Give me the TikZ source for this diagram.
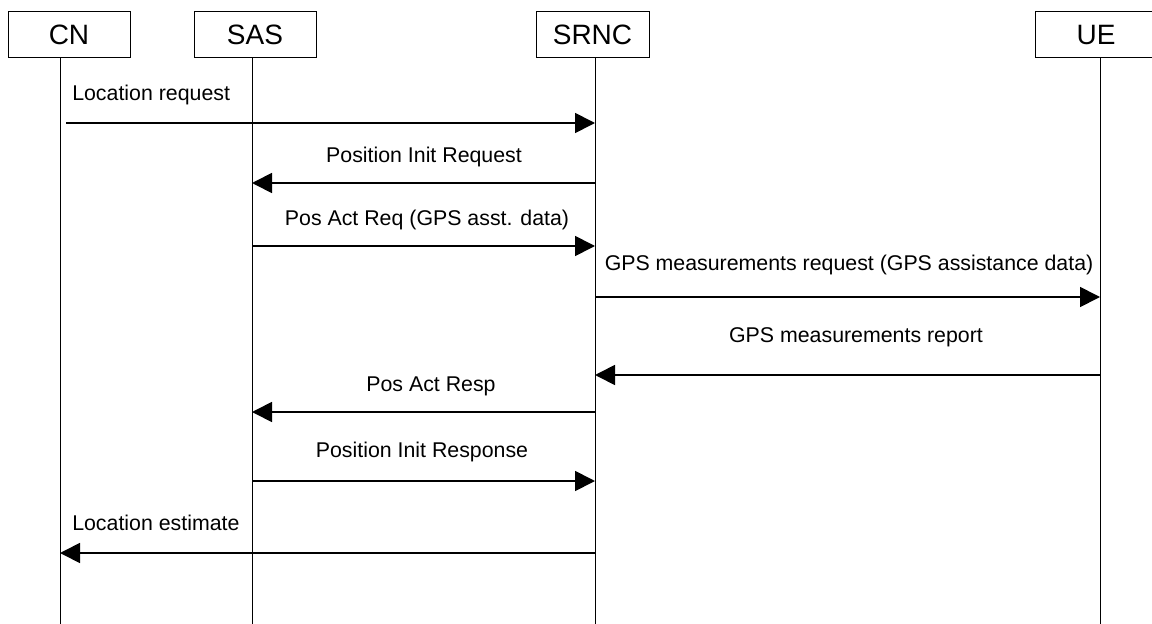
\documentclass[tikz,border=0pt]{standalone}
\usepackage{fontspec}
\setmainfont{Liberation Sans}
\usetikzlibrary{arrows.meta}

\tikzset{
  entity/.style={draw, line width=0.75pt, minimum height=34.5pt, inner sep=0pt,
    font=\fontsize{21}{25}\selectfont},
  lifeline/.style={line width=0.75pt},
  msg/.style={line width=1.3pt, -{Triangle[length=15pt,width=15pt]}},
  msglabel/.style={inner sep=0pt, font=\fontsize{16}{19}\selectfont}
}

\begin{document}
\begin{tikzpicture}[x=0.75pt, y=-0.75pt]
\useasboundingbox (0,0) rectangle (1152,624);

% Entities
\node[entity, minimum width=91.5pt] (cn) at (69,35) {CN};
\node[entity, minimum width=91.5pt] (sas) at (255,35) {SAS};
\node[entity, minimum width=84.75pt] (srnc) at (592.5,35) {SRNC};
\node[entity, minimum width=91.5pt] (ue) at (1096,35) {UE};

% Lifelines
\coordinate (cn-top) at (60,58);
\coordinate (cn-bot) at (60,624);
\coordinate (sas-top) at (252,58);
\coordinate (sas-bot) at (252,624);
\coordinate (srnc-top) at (595,58);
\coordinate (srnc-bot) at (595,624);
\coordinate (ue-top) at (1100,58);
\coordinate (ue-bot) at (1100,624);
\draw[lifeline] (cn-top) -- (cn-bot);
\draw[lifeline] (sas-top) -- (sas-bot);
\draw[lifeline] (srnc-top) -- (srnc-bot);
\draw[lifeline] (ue-top) -- (ue-bot);

% Messages
\node[msglabel, anchor=west] (m1) at (72,95) {Location request};
\draw[msg, shorten <=4.5pt] (cn-top |- 0,123) -- (srnc-top |- 0,123);

\node[msglabel] (m2) at (424,157) {Position Init Request};
\draw[msg] (srnc-top |- 0,183) -- (sas-top |- 0,183);

\node[msglabel] (m3) at (427,220) {Pos Act Req (GPS asst. data)};
\draw[msg] (sas-top |- 0,246) -- (srnc-top |- 0,246);

\node[msglabel] (m4) at (849,265) {GPS measurements request (GPS assistance data)};
\draw[msg] (srnc-top |- 0,297) -- (ue-top |- 0,297);

\node[msglabel] (m5) at (856,337) {GPS measurements report};
\draw[msg] (ue-top |- 0,375) -- (srnc-top |- 0,375);

\node[msglabel] (m6) at (431,386) {Pos Act Resp};
\draw[msg] (srnc-top |- 0,412) -- (sas-top |- 0,412);

\node[msglabel] (m7) at (422,452) {Position Init Response};
\draw[msg] (sas-top |- 0,481) -- (srnc-top |- 0,481);

\node[msglabel, anchor=west] (m8) at (72,523) {Location estimate};
\draw[msg] (srnc-top |- 0,553) -- (cn-top |- 0,553);
\end{tikzpicture}
\end{document}
